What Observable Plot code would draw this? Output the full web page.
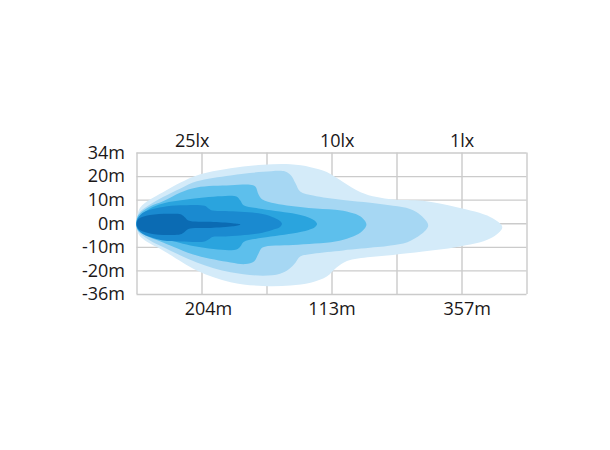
<!DOCTYPE html>
<html>
<head>
<meta charset="utf-8">
<script src="https://cdn.jsdelivr.net/npm/d3@7"></script>
<script src="https://cdn.jsdelivr.net/npm/@observablehq/plot@0.6"></script>
<style>
  html, body { margin: 0; padding: 0; background: #fff; }
  #chart svg { display: block; }
</style>
</head>
<body>
<div id="chart"></div>
<script>
// Grid rows (evenly spaced) and their labels
const yTickValues = [-3, -2, -1, 0, 1, 2, 3];
const yTickLabels = ["-36m", "-20m", "-10m", "0m", "10m", "20m", "34m"];
// Grid columns
const xGridValues = [0, 1, 2, 3, 4, 5, 6];
// Top and bottom annotations, with the grid column each one sits at
const luxLabels = ["25lx", "10lx", "1lx"];
const luxLabelAt = [0.85, 3.08, 5.0];
const distanceLabels = ["204m", "113m", "357m"];
const distanceLabelAt = [1.1, 3.0, 5.08];

// Iso-lux contours, from outermost (1 lx) to innermost; points in grid units [column, row]
const level1 = [
  [0,0.31],[0.05,0.69],[0.20,1.03],[0.40,1.34],[0.67,1.75],[0.92,2.05],[1.44,2.35],[1.94,2.50],[2.36,2.52],
  [2.67,2.40],[2.92,2.19],[3.17,1.77],[3.44,1.34],[3.69,1.13],[3.94,1.03],[4.40,0.97],[4.92,0.70],[5.44,0.28],
  [5.62,-0.14],
  [5.44,-0.62],[4.92,-0.99],[4.40,-1.18],[3.94,-1.32],[3.59,-1.41],[3.23,-1.58],[3.07,-1.86],[2.92,-2.24],
  [2.67,-2.50],[2.36,-2.62],[1.94,-2.64],[1.44,-2.48],[0.92,-1.98],[0.40,-1.13],[0.20,-0.84],[0.05,-0.54],[0,-0.28]
];
const level2 = [
  [0,0.27],[0.05,0.52],[0.20,0.82],[0.40,1.13],[0.67,1.50],[0.92,1.80],[1.44,2.05],[1.94,2.20],[2.28,2.22],
  [2.37,2.05],[2.44,1.71],[2.51,1.37],[2.71,1.20],[3.17,1.01],[3.59,0.89],[3.94,0.76],[4.20,0.63],[4.37,0.35],
  [4.48,-0.07],
  [4.37,-0.45],[4.16,-0.78],[3.90,-0.92],[3.70,-0.99],[3.17,-1.13],[2.71,-1.27],[2.51,-1.39],[2.44,-1.64],
  [2.34,-1.92],[2.20,-2.12],[1.94,-2.20],[1.44,-2.06],[0.92,-1.64],[0.40,-0.99],[0.20,-0.71],[0.05,-0.41],[0,-0.24]
];
const level3 = [
  [0,0.23],[0.05,0.44],[0.20,0.73],[0.40,0.95],[0.67,1.33],[0.92,1.54],[1.44,1.63],[1.74,1.65],[1.82,1.58],
  [1.87,1.24],[1.93,1.03],[2.13,0.86],[2.64,0.67],[3.05,0.59],[3.28,0.48],[3.44,0.31],[3.53,-0.03],
  [3.44,-0.37],[3.28,-0.58],[3.05,-0.75],[2.40,-0.90],[1.93,-1.01],[1.87,-1.26],[1.80,-1.60],[1.67,-1.71],
  [1.44,-1.64],[0.92,-1.35],[0.40,-0.79],[0.20,-0.58],[0.05,-0.37],[0,-0.20]
];
const level4 = [
  [0,0.18],[0.05,0.35],[0.20,0.65],[0.40,0.86],[0.82,1.05],[1.36,1.18],[1.53,1.16],[1.59,0.99],[1.64,0.78],
  [1.87,0.65],[2.39,0.44],[2.64,0.27],[2.73,0.14],[2.77,-0.01],
  [2.73,-0.16],[2.64,-0.26],[2.39,-0.41],[1.87,-0.62],[1.64,-0.77],[1.59,-0.96],[1.53,-1.09],[1.36,-1.11],
  [0.82,-0.92],[0.40,-0.62],[0.20,-0.45],[0.05,-0.28],[0,-0.16]
];
const level5 = [
  [0,0.14],[0.08,0.44],[0.20,0.59],[0.40,0.71],[0.67,0.78],[1.04,0.76],[1.10,0.65],[1.16,0.56],[1.36,0.54],
  [1.87,0.44],[2.08,0.29],[2.19,0.14],[2.23,0],
  [2.19,-0.16],[2.08,-0.26],[1.87,-0.41],[1.36,-0.54],[1.16,-0.56],[1.10,-0.67],[1.04,-0.75],[0.67,-0.75],
  [0.40,-0.71],[0.20,-0.56],[0.08,-0.41],[0,-0.16]
];
const level6 = [
  [0,0.10],[0.05,0.25],[0.20,0.37],[0.48,0.42],[0.67,0.40],[0.73,0.29],[0.79,0.14],[1.13,0.08],[1.47,0.02],
  [1.59,-0.03],
  [1.47,-0.11],[1.13,-0.18],[0.79,-0.22],[0.73,-0.35],[0.67,-0.45],[0.48,-0.48],[0.20,-0.41],[0.05,-0.28],[0,-0.11]
];
const levels = [level1, level2, level3, level4, level5, level6];
const levelColors = ["#d4ebf9", "#a6d7f3", "#5dbfec", "#2aa4de", "#1a8ad0", "#0b6bb3"];

const gridColor = "#cbcbcb";
const textColor = "#1a1718";

const chart = Plot.plot({
  width: 610,
  height: 450,
  marginLeft: 136.5,
  marginRight: 83.5,
  marginTop: 152.5,
  marginBottom: 156,
  style: { fontFamily: "'Open Sans', sans-serif", fontSize: "18px", color: textColor, background: "#fff" },
  x: { domain: [0, 6] },
  y: { domain: [-3, 3] },
  marks: [
    Plot.ruleX(xGridValues, { stroke: gridColor, strokeWidth: 1.4 }),
    Plot.ruleY(yTickValues, { stroke: gridColor, strokeWidth: 1.4 }),
    ...levels.map((pts, i) => Plot.line(pts, {
      x: d => d[0], y: d => d[1],
      curve: "catmull-rom-closed",
      fill: levelColors[i], stroke: "none"
    })),
    Plot.axisY(yTickValues, {
      tickFormat: d => yTickLabels[yTickValues.indexOf(d)],
      tickSize: 0, tickPadding: 12, fontSize: 18, fill: textColor
    }),
    Plot.axisX(luxLabelAt, {
      anchor: "top",
      tickFormat: d => luxLabels[luxLabelAt.indexOf(d)],
      tickSize: 0, tickPadding: 6, fontSize: 18, fill: textColor
    }),
    Plot.axisX(distanceLabelAt, {
      anchor: "bottom",
      tickFormat: d => distanceLabels[distanceLabelAt.indexOf(d)],
      tickSize: 0, tickPadding: 8, fontSize: 18, fill: textColor
    })
  ]
});
document.getElementById("chart").appendChild(chart);
</script>
</body>
</html>
